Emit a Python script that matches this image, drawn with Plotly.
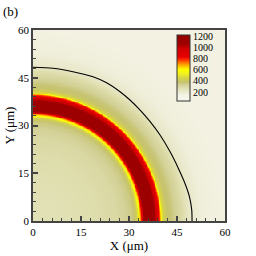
import numpy as np
import plotly.graph_objects as go

# radial temperature profile (r in um, value)
prof_r = [0, 10, 20, 26, 29, 31, 32.3, 33.0, 33.5, 34.0, 34.5, 37.5, 38.3, 39.0, 39.6, 40.2, 41.5, 43.0, 44.5, 46.5, 49, 53, 60, 90]
prof_v = [255, 262, 280, 300, 330, 360, 420, 560, 700, 900, 1120, 1120, 1000, 880, 760, 480, 390, 370, 330, 290, 215, 170, 150, 145]

# black contour line
line_x = [0, 6.25, 12.5, 18.75, 23.0, 27.2, 30.3, 33.4, 36.6, 39.7, 42.8, 45.4, 47.5, 48.9, 49.6, 49.7]
line_y = [48.3, 48.0, 46.9, 45.3, 43.4, 40.6, 38.0, 34.9, 31.2, 27.0, 21.8, 16.6, 11.8, 7.6, 3.5, 0.0]

cbar_ticks = [200, 400, 600, 800, 1000, 1200]
axis_ticks = [0, 15, 30, 45, 60]

SERIF = "Liberation Serif, Times New Roman, serif"

zmin, zmax = 40, 1225
stops = [
    (40, "#f8f8f0"), (150, "#f3f2e2"), (220, "#e8e7c8"), (270, "#e0dfb0"),
    (330, "#d3d196"), (380, "#c6c370"), (450, "#d6d345"), (520, "#eeee25"),
    (600, "#ffff00"), (660, "#ffc800"), (720, "#ff8000"), (780, "#ff3000"),
    (830, "#e80000"), (980, "#d00000"), (1060, "#a00000"), (1225, "#960000"),
]
cscale = [[(v - zmin) / (zmax - zmin), c] for v, c in stops]

g = np.linspace(0, 60, 241)
X, Y = np.meshgrid(g, g)
R = np.sqrt(X ** 2 + Y ** 2)
Z = np.interp(R, prof_r, prof_v)

fig = go.Figure()
fig.add_trace(go.Heatmap(
    x=g, y=g, z=Z, zmin=zmin, zmax=zmax, colorscale=cscale, zsmooth="best",
    colorbar=dict(
        x=(177 - 33) / 192, xanchor="left", y=1 - (68 - 30) / 191, yanchor="middle",
        len=66, lenmode="pixels", thickness=13, thicknessmode="pixels",
        outlinewidth=1, outlinecolor="#333333",
        tickvals=cbar_ticks, ticks="", ticklabelposition="outside",
        tickfont=dict(family=SERIF, size=10, color="black"),
        xpad=0, ypad=0,
    ),
))
fig.add_trace(go.Scatter(x=line_x, y=line_y, mode="lines", line=dict(color="black", width=1.1, shape="spline", smoothing=0.8),
                         showlegend=False, hoverinfo="skip"))

axis_common = dict(
    range=[0, 60], tickvals=axis_ticks, ticks="inside", ticklen=5, tickwidth=1.5, tickcolor="#444444",
    showline=True, linecolor="#444444", linewidth=1.5, mirror=True, showgrid=False, zeroline=False,
    automargin=False,
    tickfont=dict(family=SERIF, size=11, color="black"),
    minor=dict(dtick=3, ticks="inside", ticklen=3, tickwidth=1, tickcolor="#444444", showgrid=False),
)
fig.update_xaxes(**axis_common, title=dict(text="X (μm)", font=dict(family=SERIF, size=13, color="black"), standoff=0))
fig.update_yaxes(**axis_common, title=dict(text="Y (μm)", font=dict(family=SERIF, size=13, color="black"), standoff=0))

fig.add_annotation(text="(b)", xref="paper", yref="paper", x=-0.165, y=1.145, xanchor="left", yanchor="top",
                   showarrow=False, font=dict(family=SERIF, size=13, color="black"))

fig.update_layout(
    width=256, height=256, margin=dict(l=33, r=31, t=30, b=35, autoexpand=False),
    paper_bgcolor="white", plot_bgcolor="white", showlegend=False,
)
fig.write_html("out.html", config={"displayModeBar": False},
               post_script="document.body.style.margin='0';document.body.style.padding='0';")
